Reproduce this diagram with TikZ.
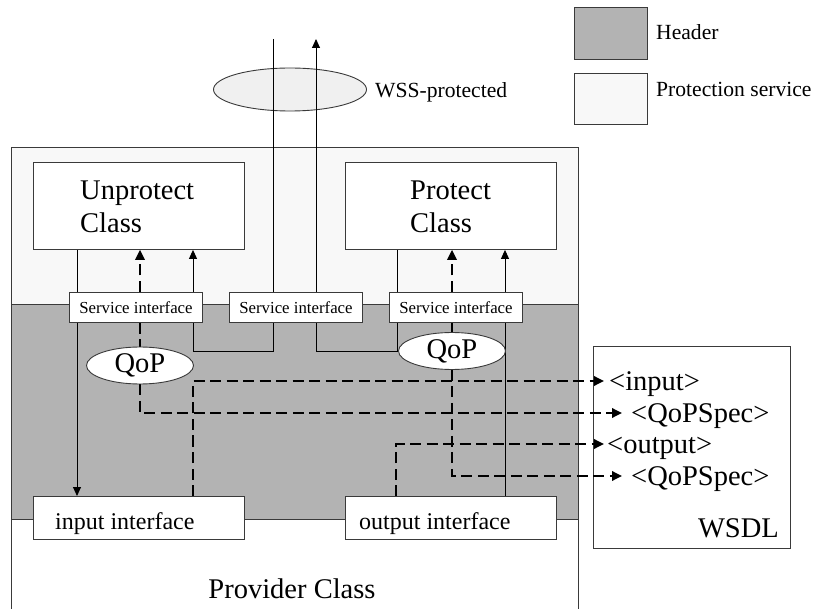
\documentclass[tikz,border=0pt]{standalone}
\usepackage{fontspec}
\setmainfont{Liberation Serif}
\usetikzlibrary{arrows.meta,shapes.geometric,calc}

\definecolor{headgray}{HTML}{B3B3B3}
\definecolor{servlight}{HTML}{F8F8F8}
\definecolor{wssfill}{HTML}{F0F0F0}
\definecolor{edge}{HTML}{3A3A3A}

\pgfdeclarelayer{base}
\pgfdeclarelayer{wires}
\pgfsetlayers{base,wires,main}

\begin{document}
\begin{tikzpicture}[x=1pt,y=-1pt,
  frame/.style={draw=edge, line width=0.9pt},
  box/.style={frame, fill=white, inner sep=0pt, anchor=north west},
  wire/.style={line width=0.9pt, draw=black},
  flow/.style={wire, -{Triangle[length=9pt,width=8pt]}},
  qline/.style={line width=1.8pt, dash pattern=on 11pt off 5.5pt},
  qflow/.style={qline, -{Triangle[length=10pt,width=9.5pt]}},
  bigtext/.style={font=\fontsize{28.5}{33}\selectfont, inner sep=0pt},
  midtext/.style={font=\fontsize{24}{28}\selectfont, inner sep=0pt},
  smalltext/.style={font=\fontsize{16.8}{20}\selectfont, inner sep=0pt},
  legtext/.style={font=\fontsize{21.6}{26}\selectfont, inner sep=0pt},
  qop/.style={ellipse, frame, fill=white, inner sep=0pt, minimum width=107, minimum height=37, bigtext},
]
\useasboundingbox (0,0) rectangle (814,609);
\clip (0,0) rectangle (814,609);

% ---- regions of the provider class ----
\begin{pgfonlayer}{base}
  \fill[white] (0,0) rectangle (814,609);
  \fill[servlight] (11,147) rectangle (578,304);
  \fill[headgray] (11,304) rectangle (578,519);
  \draw[frame] (11,304) -- (578,304);
  \draw[frame] (11,519) -- (578,519);
  \draw[frame] (11,640) -- (11,147) -- (578,147) -- (578,640);

  % legend
  \fill[headgray, frame] (574,7) rectangle (647,59);
  \fill[servlight, frame] (574,73) rectangle (647,124);
  \node[legtext, anchor=base west] (lhead) at (656,40) {Header};
  \node[legtext, anchor=base west] (lserv) at (656,97) {Protection service};

  % protected message
  \node[ellipse, frame, fill=wssfill, minimum width=153, minimum height=43, inner sep=0pt] (wss) at (290,89.5) {};
  \node[legtext, anchor=base west] (wsslbl) at (375,98) {WSS-protected};

  % WSDL description frame (the arrows run over its edge)
  \node[box, minimum width=197, minimum height=202] (wsdl) at (593,346) {};
\end{pgfonlayer}

% ---- classes and interfaces ----
\node[box, minimum width=211, minimum height=87] (unp) at (33,162) {};
\node[bigtext, anchor=base west] (unplbl) at (80,200) {Unprotect};
\node[bigtext, anchor=base west] (unplbl2) at (80,233) {Class};

\node[box, minimum width=211, minimum height=87] (pro) at (345,162) {};
\node[bigtext, anchor=base west] (prolbl) at (410,200) {Protect};
\node[bigtext, anchor=base west] (prolbl2) at (410,233) {Class};

\node[box, minimum width=133, minimum height=30] (si1) at (69,292) {};
\node[box, minimum width=133, minimum height=30] (si2) at (229,292) {};
\node[box, minimum width=133, minimum height=30] (si3) at (389,292) {};
\foreach \s in {si1,si2,si3}
  \node[smalltext, anchor=base] at ($(\s.south)+(0,-9)$) {Service interface};

\node[qop] (q1) at (140,365.5) {QoP};
\node[qop] (q2) at (452,351) {QoP};

\node[box, minimum width=211, minimum height=43] (inif) at (33,496) {};
\node[midtext, anchor=base west] (iniflbl) at (55,529) {input interface};
\node[box, minimum width=211, minimum height=43] (outif) at (345,496) {};
\node[midtext, anchor=base west] (outiflbl) at (359,529) {output interface};

\node[bigtext, anchor=base] (provlbl) at (292,598) {Provider Class};

% ---- WSDL entries ----
\node[bigtext, anchor=base east] (wsdllbl) at (779,537) {WSDL};
\node[bigtext, anchor=base west] (inp) at (609,390.5) {<input>};
\node[bigtext, anchor=base west] (spec1) at (631,422.5) {<QoPSpec>};
\node[bigtext, anchor=base west] (outp) at (607,453.5) {<output>};
\node[bigtext, anchor=base west] (spec2) at (631,485.5) {<QoPSpec>};

% ---- message wires ----
\coordinate (wIn) at (273,39);
\coordinate (wOut) at (316,39);
\coordinate (jA) at (273,351);
\coordinate (jB) at (193,351);
\coordinate (jC) at (397,351);
\coordinate (jD) at (316,351);

\begin{pgfonlayer}{wires}
  % incoming message to the unprotect class, then on to the input interface
  \draw[flow] (wIn) -- (jA) -- (jB) -- (jB |- unp.south);
  \draw[flow] ([xshift=44pt]unp.south west) -- ([xshift=44pt]inif.north west);
  % output interface to the protect class, then out
  \draw[flow] ([xshift=160pt]outif.north west) -- ([xshift=160pt]pro.south west);
  \draw[flow] ([xshift=52pt]pro.south west) -- (jC) -- (jD) -- (wOut);

  % QoP selections
  \draw[qflow] (si1.north -| q1) -- (unp.south -| q1);
  \draw[qline] (si1.south -| q1) -- (q1.north);
  \draw[qflow] (q1.south) |- ([shift={(-9,-9.5)}]spec1.base west);
  \draw[qflow] (si3.north -| q2) -- (pro.south -| q2);
  \draw[qline] (si3.south -| q2) -- (q2.north);
  \draw[qflow] (q2.south) |- ([shift={(-9,-9.5)}]spec2.base west);

  % interfaces described in the WSDL
  \draw[qflow] ([xshift=160pt]inif.north west) |- ([shift={(-5,-9.5)}]inp.base west);
  \draw[qflow] ([xshift=51pt]outif.north west) |- ([shift={(-3,-9.5)}]outp.base west);
\end{pgfonlayer}
\end{tikzpicture}
\end{document}
